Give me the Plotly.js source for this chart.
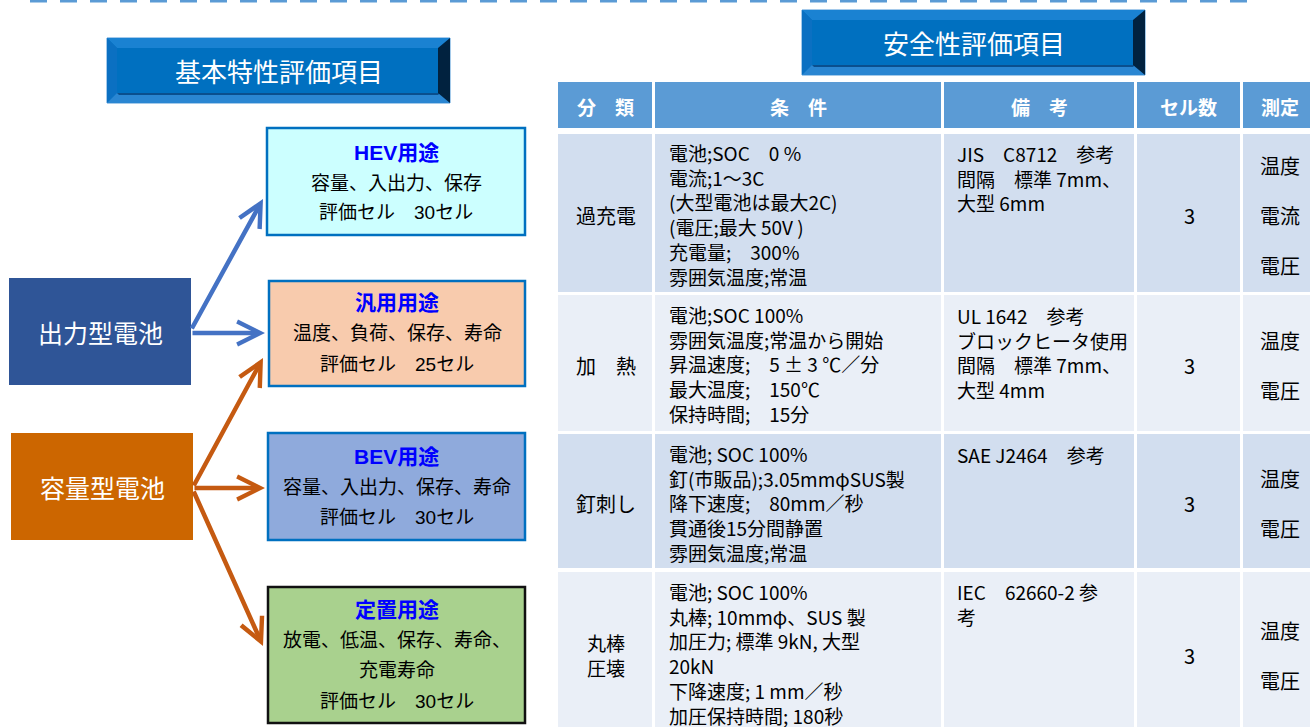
<!DOCTYPE html>
<html><head><meta charset="utf-8">
<script src="https://cdn.plot.ly/plotly-3.0.1.min.js"></script>
<style>html,body{margin:0;padding:0;background:#fff;overflow:hidden}#chart{width:1310px;height:727px}</style>
</head><body><div id="chart"></div>
<script>
// ---------- content (data) ----------
const basicTitle = '基本特性評価項目';
const safetyTitle = '安全性評価項目';
const batteryTypes = ['出力型電池', '容量型電池'];
const useNames = ['HEV用途', '汎用用途', 'BEV用途', '定置用途'];
const useItems = [['容量、入出力、保存'], ['温度、負荷、保存、寿命'], ['容量、入出力、保存、寿命'], ['放電、低温、保存、寿命、', '充電寿命']];
const useCellCounts = [30, 25, 30, 30];
const useLinks = [[0, 0], [0, 1], [1, 1], [1, 2], [1, 3]]; // [battery type, use]
const tableHeaders = ['分　類', '条　件', '備　考', 'セル数', '測定'];
const testNames = [['過充電'], ['加　熱'], ['釘刺し'], ['丸棒', '圧壊']];
const testConditions = [
  ['電池;SOC　0 %', '電流;1～3C', '(大型電池は最大2C)', '(電圧;最大 50V )', '充電量;　300%', '雰囲気温度;常温'],
  ['電池;SOC 100%', '雰囲気温度;常温から開始', '昇温速度;　5 ± 3 ℃／分', '最大温度;　150℃', '保持時間;　15分'],
  ['電池; SOC 100%', '釘(市販品);3.05mmφSUS製', '降下速度;　80mm／秒', '貫通後15分間静置', '雰囲気温度;常温'],
  ['電池; SOC 100%', '丸棒; 10mmφ、SUS 製', '加圧力; 標準 9kN, 大型', '20kN', '下降速度; 1 mm／秒', '加圧保持時間; 180秒']
];
const testRemarks = [
  ['JIS　C8712　参考', '間隔　標準 7mm、', '大型 6mm'],
  ['UL 1642　参考', 'ブロックヒータ使用', '間隔　標準 7mm、', '大型 4mm'],
  ['SAE J2464　参考'],
  ['IEC　62660-2 参', '考']
];
const testCellCounts = [3, 3, 3, 3];
const testMeasurements = [['温度', '電流', '電圧'], ['温度', '電圧'], ['温度', '電圧'], ['温度', '電圧']];

// ---------- geometry & style ----------
const JP = 'Noto Sans CJK JP';
const LJP = 'Liberation Sans, Noto Sans CJK JP';
const basicBtn = [107, 38, 450, 103];
const safetyBtn = [802, 10, 1145, 75];
const typeBoxes = [[9, 278, 191, 385], [11, 433, 193, 540]];
const typeFills = ['#2F5597', '#CC6600'];
const useBoxes = [[267, 128, 525, 235], [269, 281, 525, 386], [268, 433, 525, 540], [268, 587, 525, 723]];
const useFills = ['#CCFFFF', '#F8CBAD', '#8FAADC', '#A9D18E'];
const useBorders = ['#0070C0', '#0070C0', '#0070C0', '#111111'];
const useLineY = [[152, 183, 212], [302, 333, 364], [456, 487, 517], [609, 640, 670, 701]];
const arrowColors = ['#4472C4', '#C55A11'];
const arrowEnds = [[191, 330, 263, 199], [191, 333, 265, 333], [193, 487, 263, 358], [193, 488, 265, 488], [193, 490, 263, 646]];
const colEdges = [558, 655, 944, 1137, 1243, 1330];
const headerY = [82, 128];
const rowsY = [[134, 292], [295, 431], [434, 568], [572, 745]];
const rowFills = ['#D2DEEF', '#EAEFF7', '#D2DEEF', '#EAEFF7'];
const firstLineY = [153, 315, 454, 592];
const rowMid = [215, 365, 503.5, 655];

const shapes = [];
const ann = [];
function rect(x0, y0, x1, y1, fill, lc, lw) {
  shapes.push({type: 'rect', xref: 'x', yref: 'y', x0, y0, x1, y1, fillcolor: fill,
    line: {color: lc || fill, width: lw === undefined ? 0 : lw}});
}
function path(p, fill) {
  shapes.push({type: 'path', xref: 'x', yref: 'y', path: p, fillcolor: fill, line: {width: 0}});
}
function text(x, y, t, size, color, xa, fam) {
  ann.push({x, y, xref: 'x', yref: 'y', text: t, showarrow: false, xanchor: xa || 'center', yanchor: 'middle',
    align: xa || 'center', borderpad: 0, borderwidth: 0, font: {family: fam || JP, size, color: color || '#000'}});
}
function block(x, y1st, lines, size, xa) {
  const step = size * 1.3;
  text(x, y1st + (lines.length - 1) * step / 2, lines.join('<br>'), size, '#000', xa);
}
function bevelButton(b, label) {
  const [x0, y0, x1, y1] = b, e = 10;
  rect(x0, y0, x1, y1, '#0070C0', '#4A95D6', 1);
  path(`M${x0},${y0}L${x1},${y0}L${x1 - e},${y0 + e}L${x0 + e},${y0 + e}Z`, '#1A82D2');
  path(`M${x0},${y0}L${x0 + e},${y0 + e}L${x0 + e},${y1 - e}L${x0},${y1}Z`, '#0B70C2');
  path(`M${x0},${y1}L${x1},${y1}L${x1 - e},${y1 - e}L${x0 + e},${y1 - e}Z`, '#2A86D2');
  path(`M${x0 + e},${y1 - e}L${x1 - e},${y1 - e}L${x1 - e - 2},${y1 - e + 2}L${x0 + e + 2},${y1 - e + 2}Z`, '#0A4F8E');
  path(`M${x1},${y0}L${x1 - e - 2},${y0 + e}L${x1 - e - 2},${y1 - e}L${x1},${y1}Z`, '#01223F');
  rect(x0 + e, y0 + e, x1 - e - 2, y1 - e, '#0070C0', '#0070C0', 0);
  text((x0 + x1) / 2, (y0 + y1) / 2, label, 26, '#FFFFFF');
}

// top dashed rule
shapes.push({type: 'line', xref: 'x', yref: 'y', x0: 30, x1: 1250, y0: 1, y1: 1,
  line: {color: '#5B9BD5', width: 3, dash: '17px,13px'}});

// left: title, battery types, uses
bevelButton(basicBtn, basicTitle);
batteryTypes.forEach((t, i) => {
  const b = typeBoxes[i];
  rect(b[0], b[1], b[2], b[3], typeFills[i]);
  text((b[0] + b[2]) / 2, (b[1] + b[3]) / 2, t, 25, '#FFFFFF');
});
useNames.forEach((n, i) => {
  const b = useBoxes[i];
  rect(b[0], b[1], b[2], b[3], useFills[i], useBorders[i], 2.5);
  const cx = (b[0] + b[2]) / 2;
  const lines = ['<b>' + n + '</b>'].concat(useItems[i], ['評価セル　' + useCellCounts[i] + 'セル']);
  lines.forEach((l, k) => text(cx, useLineY[i][k], l, k === 0 ? 21 : 19, k === 0 ? '#0000FF' : '#000000', 'center', LJP));
});
useLinks.forEach((lk, i) => {
  const e = arrowEnds[i];
  ann.push({x: e[2], y: e[3], ax: e[0], ay: e[1], xref: 'x', yref: 'y', axref: 'x', ayref: 'y', text: '',
    showarrow: true, arrowhead: 5, arrowsize: 1, arrowwidth: 4.5, arrowcolor: arrowColors[lk[0]], standoff: 0, startstandoff: 0});
});

// right: title and table
bevelButton(safetyBtn, safetyTitle);
const colX0 = colEdges.slice(0, 5), colX1 = colEdges.slice(1).map(v => v - 3);
tableHeaders.forEach((h, c) => {
  rect(colX0[c], headerY[0], colX1[c], headerY[1], '#5B9BD5');
  text(c === 4 ? 1280 : (colX0[c] + colX1[c]) / 2, (headerY[0] + headerY[1]) / 2 + 1, '<b>' + h + '</b>', 19, '#FFFFFF');
});
testNames.forEach((nm, r) => {
  const [y0, y1] = rowsY[r];
  for (let c = 0; c < 5; c++) rect(colX0[c], y0, colX1[c], y1, rowFills[r]);
  text(606, rowMid[r], nm.join('<br>'), nm.length > 1 ? 19 : 20);
  block(669, firstLineY[r], testConditions[r], 19, 'left');
  block(957, firstLineY[r], testRemarks[r], 19, 'left');
  text(1189, rowMid[r], String(testCellCounts[r]), 20);
  const ms = testMeasurements[r];
  ms.forEach((t, k) => text(1280, rowMid[r] + (k - (ms.length - 1) / 2) * 50, t, 20));
});

const layout = {
  width: 1310, height: 727, margin: {l: 0, r: 0, t: 0, b: 0},
  paper_bgcolor: '#FFFFFF', plot_bgcolor: '#FFFFFF', showlegend: false,
  xaxis: {range: [0, 1310], visible: false, fixedrange: true},
  yaxis: {range: [727, 0], visible: false, fixedrange: true},
  shapes, annotations: ann
};
Plotly.newPlot('chart', [], layout, {staticPlot: true, displayModeBar: false});
</script></body></html>
